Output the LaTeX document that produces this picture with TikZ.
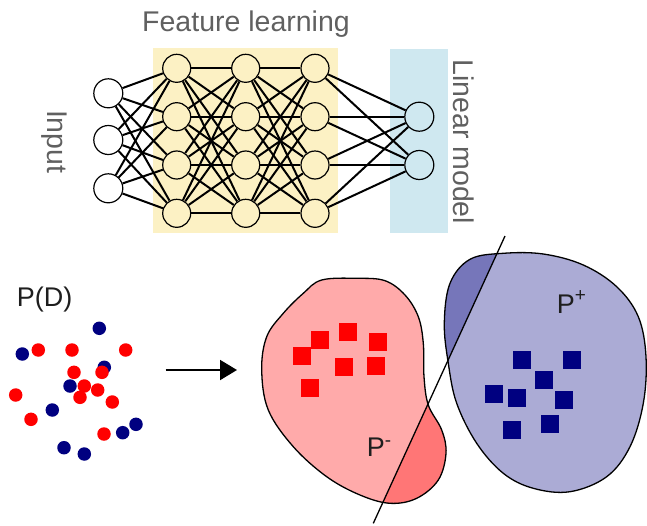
\documentclass[tikz,border=0pt]{standalone}
\usepackage{fontspec}
\setmainfont{Liberation Sans}
\usetikzlibrary{arrows.meta}

\definecolor{featfill}{RGB}{252,241,196}
\definecolor{linfill}{RGB}{207,232,240}
\definecolor{labgray}{RGB}{96,96,96}
\definecolor{textdark}{RGB}{30,30,30}
\definecolor{negred}{RGB}{255,0,0}
\definecolor{posblue}{RGB}{0,0,128}
\definecolor{negregion}{RGB}{255,170,170}
\definecolor{negdark}{RGB}{255,118,118}
\definecolor{posregion}{RGB}{171,171,213}
\definecolor{posdark}{RGB}{118,118,186}

\pgfdeclarelayer{panels}
\pgfdeclarelayer{wires}
\pgfsetlayers{panels,wires,main}

% outlines of the two class regions
\newcommand\negblobpath{plot[smooth cycle,tension=0.6] coordinates {
  (321.7,280) (356.7,278.3) (385,280.7) (405,295) (418.3,316.7) (423.3,343.3)
  (424,376.7) (428.3,405) (441.7,430) (446,453.3) (438.3,480) (416.7,498.3)
  (390,503.3) (360,495) (326.7,476.7) (293.3,446.7) (268.3,410) (261.7,370)
  (266.7,336.7) (283.3,313.3) (303.3,293.3)}}
\newcommand\posblobpath{plot[smooth cycle,tension=0.6] coordinates {
  (470,259.3) (503.3,253.3) (543.3,254) (583.3,265) (616.7,286.7) (638.3,316.7)
  (646,356.7) (643.3,403.3) (630,446.7) (606.7,476.7) (570,491.7) (533.3,488.3)
  (503.3,473.3) (476.7,443.3) (456.7,403.3) (448.3,363.3) (444.3,323.3) (450,283.3)}}
% superscript sign set a little larger than \textsuperscript
\newcommand\signsup[1]{\raisebox{0.42em}{\fontsize{19}{20}\selectfont #1}}

\begin{document}
\begin{tikzpicture}[x=1pt,y=-1pt,
  neuron/.style={circle,draw=black,line width=1.2pt,minimum size=29pt,inner sep=0pt},
  synapse/.style={line width=2pt,draw=black},
  toplabel/.style={font=\fontsize{28.5}{34}\selectfont,text=labgray,inner sep=0pt},
  setlabel/.style={font=\fontsize{27}{32}\selectfont,text=textdark,inner sep=0pt},
  sample/.style={circle,inner sep=0pt,minimum size=13.5pt},
  point/.style={inner sep=0pt,minimum size=18pt},
  blob/.style={draw=black,line width=1.3pt}
]
\useasboundingbox (0,0) rectangle (647,525);

% ---------- network ----------
\begin{pgfonlayer}{panels}
  \fill[featfill] (152.7,48.3) rectangle (338.3,233.3);
  \fill[linfill] (390,49.3) rectangle (447.7,233.3);
\end{pgfonlayer}

\foreach \y [count=\i] in {93.3,140,188.3}
  \node[neuron,fill=white] (in\i) at (108.3,\y) {};
\foreach \x/\l in {176.7/a,245.7/b,315/c}
  \foreach \y [count=\i] in {68.3,116.7,165,213.3}
    \node[neuron,fill=featfill,minimum size=28pt] (h\l\i) at (\x,\y) {};
\foreach \y [count=\i] in {116.7,165}
  \node[neuron,fill=linfill] (out\i) at (419.3,\y) {};

\begin{pgfonlayer}{wires}
  \foreach \i in {1,2,3}
    \foreach \j in {1,...,4}
      \draw[synapse] (in\i) -- (ha\j);
  \foreach \i in {1,...,4}
    \foreach \j in {1,...,4} {
      \draw[synapse] (ha\i) -- (hb\j);
      \draw[synapse] (hb\i) -- (hc\j);
    }
  \foreach \i in {1,...,4}
    \foreach \j in {1,2}
      \draw[synapse] (hc\i) -- (out\j);
\end{pgfonlayer}

\node[toplabel,anchor=base] (featlab) at (246,31.7) {Feature learning};
\node[toplabel,anchor=base,rotate=-90] (inlab) at (47.8,141.7) {Input};
\node[toplabel,anchor=base,rotate=-90] (linlab) at (453.8,141.7) {Linear model};

% ---------- raw samples ----------
\node[setlabel,anchor=base west] (pd) at (16.7,306.7) {P(D)};
\foreach \p [count=\k] in {(99.3,328.3),(22.3,354),(104.3,367.3),(70,386),(52.3,410),
    (136,424.3),(122.7,432.7),(64,447.7),(84.3,454)}
  \node[sample,fill=posblue] (b\k) at \p {};
\foreach \p [count=\k] in {(38.3,350),(72,350),(125.7,350),(74,372.3),(102,372.3),
    (84.3,386),(97.7,390),(80,397.3),(15.7,395),(112.3,402),(31,419.3),(104,434)}
  \node[sample,fill=negred] (r\k) at \p {};

\coordinate (arrA) at (165.7,370);
\coordinate (arrB) at (237,370);
\draw[line width=2pt,-{Triangle[length=17pt,width=20pt]}] (arrA) -- (arrB);

% ---------- learned representation ----------
\fill[negregion] \negblobpath;
\fill[posregion] \posblobpath;
\begin{scope}
  \clip \negblobpath;
  \fill[negdark] (530.7,180) -- (347.3,580) -- (700,580) -- (700,180) -- cycle;
\end{scope}
\begin{scope}
  \clip \posblobpath;
  \fill[posdark] (530.7,180) -- (347.3,580) -- (200,580) -- (200,180) -- cycle;
\end{scope}
\draw[blob] \negblobpath;
\draw[blob] \posblobpath;

\coordinate (cutA) at (505,236);
\coordinate (cutB) at (373.3,523.3);
\draw[line width=1.3pt] (cutA) -- (cutB);

\foreach \p [count=\k] in {(301.7,356),(320,340),(347.7,332.3),(377.7,342.3),
    (344,367.3),(375.7,366),(310,388.3)}
  \node[point,fill=negred] (rs\k) at \p {};
\foreach \p [count=\k] in {(522.3,360),(572.3,360),(544.3,380),(494.3,394.3),
    (516.7,397.7),(564,400),(512.3,430),(550,424.3)}
  \node[point,fill=posblue] (bs\k) at \p {};

\node[setlabel,anchor=base west] (ppos) at (556.7,313.3) {P\signsup{+}};
\node[setlabel,anchor=base west] (pneg) at (366.7,456) {P\textsuperscript{-}};
\end{tikzpicture}
\end{document}
